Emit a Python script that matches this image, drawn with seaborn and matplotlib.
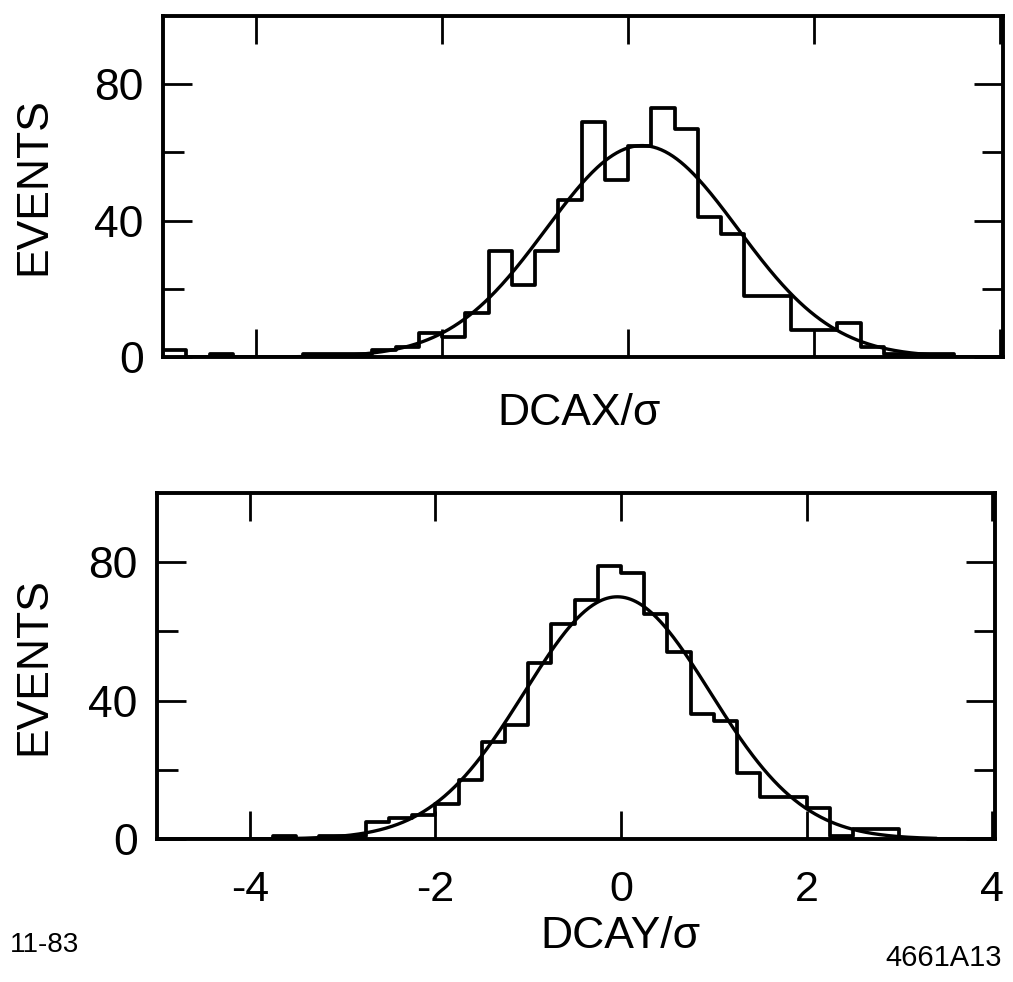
import numpy as np
import pandas as pd
import seaborn as sns
import matplotlib
matplotlib.use("Agg")
import matplotlib.pyplot as plt
from matplotlib.ticker import FixedLocator

# ---------------- data ----------------
bin_width = 0.25
bin_lefts = np.arange(-5.0, 4.0, bin_width)          # 36 bins from -5 to 4

counts_dcax = [2, 0, 1, 0, 0, 0, 1, 1, 1, 2, 3, 7, 6, 13, 31, 21, 31, 46,
               69, 52, 62, 73, 67, 41, 36, 18, 18, 8, 8, 10, 3, 1, 1, 1, 0, 0]
counts_dcay = [0, 0, 0, 0, 0, 1, 0, 1, 1, 5, 6, 7, 10, 17, 28, 33, 51, 62,
               69, 79, 77, 65, 54, 36, 34, 19, 12, 12, 9, 1, 3, 3, 0, 0, 0, 0]

# gaussian fit parameters (amplitude, mean, sigma)
fit_dcax = (62.0, 0.15, 1.03)
fit_dcay = (70.0, -0.04, 1.00)

x_ticks = [-4, -2, 0, 2, 4]
x_ticklabels = ["-4", "-2", "0", "2", "4"]
y_major = [0, 40, 80]
y_minor = [20, 60]
y_ticklabels = ["0", "40", "80"]

xlabels = ["DCAX/σ", "DCAY/σ"]
ylabel = "EVENTS"
note_left = "11-83"
note_right = "4661A13"

# ---------------- drawing ----------------
sns.set_style("white")
plt.rcParams['font.family'] = ['Liberation Sans', 'DejaVu Sans']
plt.rcParams['text.color'] = 'black'
plt.rcParams['axes.labelcolor'] = 'black'
plt.rcParams['xtick.color'] = 'black'
plt.rcParams['ytick.color'] = 'black'

fig = plt.figure(figsize=(10.13, 9.82), dpi=100)
ax_top = fig.add_axes([163 / 1013, 1 - 357 / 982, 840 / 1013, 341 / 982])
ax_bot = fig.add_axes([157 / 1013, 1 - 839 / 982, 838 / 1013, 346 / 982])

centers = bin_lefts + bin_width / 2
xfit = np.linspace(-3.6, 3.4, 500)

panels = [
    (ax_top, counts_dcax, fit_dcax, xlabels[0], (0.495, -0.165), -0.154, False),
    (ax_bot, counts_dcay, fit_dcay, xlabels[1], (0.553, -0.283), -0.147, True),
]

for ax, counts, fit, xl, xl_pos, yl_x, show_x in panels:
    df = pd.DataFrame({"x": centers, "n": counts})
    sns.histplot(data=df, x="x", weights="n", binwidth=bin_width,
                 binrange=(-5.0, 4.0), element="step",
                 fill=False, color="black", linewidth=2.7, ax=ax)
    amp, mu, sig = fit
    dfit = pd.DataFrame({"x": xfit,
                         "y": amp * np.exp(-0.5 * ((xfit - mu) / sig) ** 2)})
    sns.lineplot(data=dfit, x="x", y="y", color="black", linewidth=2.4, ax=ax)

    ax.set_xlim(-5.0, 4.03)
    ax.set_ylim(0, 100)
    ax.xaxis.set_major_locator(FixedLocator(x_ticks))
    ax.yaxis.set_major_locator(FixedLocator(y_major))
    ax.yaxis.set_minor_locator(FixedLocator(y_minor))
    ax.set_yticklabels(y_ticklabels)
    if show_x:
        ax.set_xticklabels(x_ticklabels)
    ax.tick_params(axis="x", which="major", direction="in", top=True,
                   bottom=True, length=20, width=2.0, labelsize=31, pad=22,
                   labelbottom=show_x, colors="black")
    ax.tick_params(axis="y", which="major", direction="in", left=True,
                   right=True, length=21, width=2.0, labelsize=32, pad=14,
                   colors="black")
    ax.tick_params(axis="y", which="minor", direction="in", left=True,
                   right=True, length=15, width=2.0)
    for sp in ax.spines.values():
        sp.set_visible(True)
        sp.set_linewidth(2.8)
        sp.set_color("black")

    ax.set_xlabel(xl, fontsize=32, color="black")
    ax.xaxis.set_label_coords(*xl_pos)
    ax.xaxis.label.set_va("center")
    ax.set_ylabel(ylabel, fontsize=32, color="black")
    ax.yaxis.set_label_coords(yl_x, 0.5)
    ax.yaxis.label.set_va("center")

fig.text(10 / 1013, 1 - 945 / 982, note_left, fontsize=20, ha="left",
         va="center", color="black")
fig.text(1002 / 1013, 1 - 958 / 982, note_right, fontsize=21, ha="right",
         va="center", color="black")

fig.savefig("out.png", dpi=100, facecolor="white")
